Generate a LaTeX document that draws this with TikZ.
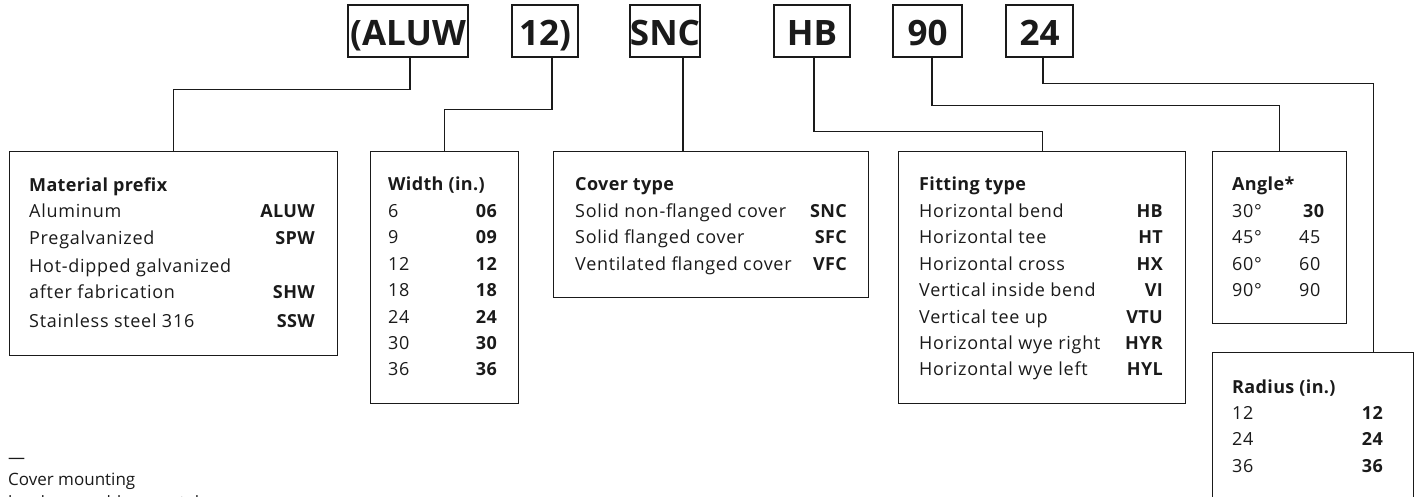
\documentclass[tikz,border=0pt]{standalone}
\usepackage{fontspec}
\setmainfont{Open Sans}
\newfontfamily\panelfont[LetterSpace=4]{Open Sans}
\newfontfamily\panelbold[LetterSpace=2]{Open Sans Bold}
\definecolor{ink}{HTML}{1A1A1A}
\begin{document}
\begin{tikzpicture}[x=1pt,y=-1pt,
  topbox/.style={draw=ink,line width=1.4pt,inner sep=0pt,minimum height=52pt,text height=30pt,text depth=0pt,font=\fontsize{35}{35}\selectfont\bfseries,text=ink},
  panel/.style={draw=ink,line width=1.4pt,inner sep=0pt,anchor=north west},
  conn/.style={draw=ink,line width=1.3pt},
  lbl/.style={anchor=base west,inner sep=0pt,font=\fontsize{18}{20}\panelfont,text=ink},
  hd/.style={anchor=base west,inner sep=0pt,font=\fontsize{18}{20}\panelbold,text=ink},
  code/.style={anchor=base east,inner sep=0pt,font=\fontsize{18}{20}\panelbold,text=ink},
  foot/.style={anchor=base west,inner sep=0pt,font=\fontsize{17}{20}\selectfont,text=ink}]
\useasboundingbox (0,0) rectangle (1418,497);

% top code boxes
\node[topbox,minimum width=120pt] (aluw) at (408,31) {(ALUW};
\node[topbox,minimum width=66pt] (w12) at (545,31) {12)};
\node[topbox,minimum width=66pt] (snc) at (665,31) {SNC};
\node[topbox,minimum width=76pt] (hb) at (812,31) {HB};
\node[topbox,minimum width=69pt] (n90) at (927.5,31) {90};
\node[topbox,minimum width=67pt] (n24) at (1039.5,31) {24};

% panels
\node[panel,minimum width=328pt,minimum height=204pt] (mat) at (9,151) {};
\node[panel,minimum width=148pt,minimum height=252pt] (wid) at (370,151) {};
\node[panel,minimum width=315pt,minimum height=146pt] (cov) at (553,151) {};
\node[panel,minimum width=287pt,minimum height=252pt] (fit) at (898,151) {};
\node[panel,minimum width=134pt,minimum height=172pt] (ang) at (1212,151) {};
\node[panel,minimum width=201pt,minimum height=190pt] (rad) at (1212,352) {};

% connectors
\draw[conn] ([xshift=2pt]aluw.south) -- ++(0,32) -| (mat.north);
\draw[conn] ([xshift=7pt]w12.south) -- ++(0,52) -| (wid.north);
\draw[conn] ([xshift=18pt]snc.south) -- ([xshift=18pt]snc.south |- cov.north);
\draw[conn] ([xshift=2pt]hb.south) -- ++(0,74) -| (fit.north);
\draw[conn] ([xshift=4.5pt]n90.south) -- ++(0,48) -| (ang.north);
\draw[conn] ([xshift=3.5pt]n24.south) -- ++(0,26) -| ([xshift=60pt]rad.north);

% Material prefix
\node[hd] (mt) at (29,192) {Material prefix};
\node[lbl] (ma1) at (29,218) {Aluminum};
\node[code] (mc1) at (315,218) {ALUW};
\node[lbl] (ma2) at (29,244) {Pregalvanized};
\node[code] (mc2) at (315,244) {SPW};
\node[lbl] (ma3) at (29,272) {Hot-dipped galvanized};
\node[lbl] (ma4) at (29,298) {after fabrication};
\node[code] (mc4) at (315,298) {SHW};
\node[lbl] (ma5) at (29,327) {Stainless steel 316};
\node[code] (mc5) at (315,327) {SSW};

% Width
\node[hd] (wt) at (388,191) {Width (in.)};
\foreach \a/\b [count=\i] in {6/06,9/09,12/12,18/18,24/24,30/30,36/36}{
  \node[lbl] (wa\i) at (388,191+26.4*\i) {\a};
  \node[code] (wc\i) at (497,191+26.4*\i) {\b};
}

% Cover type
\node[hd] (ct) at (575,191) {Cover type};
\foreach \a/\b [count=\i] in {Solid non-flanged cover/SNC,Solid flanged cover/SFC,Ventilated flanged cover/VFC}{
  \node[lbl] (ca\i) at (575,191+26.4*\i) {\a};
  \node[code] (cc\i) at (847,191+26.4*\i) {\b};
}

% Fitting type
\node[hd] (ft) at (919,191) {Fitting type};
\foreach \a/\b [count=\i] in {Horizontal bend/HB,Horizontal tee/HT,Horizontal cross/HX,Vertical inside bend/VI,Vertical tee up/VTU,Horizontal wye right/HYR,Horizontal wye left/HYL}{
  \node[lbl] (fa\i) at (919,191+26.4*\i) {\a};
  \node[code] (fc\i) at (1163,191+26.4*\i) {\b};
}

% Angle
\node[hd] (at) at (1232,191) {Angle*};
\node[lbl] (aa1) at (1232,217.4) {30°};
\node[hd] (ac1) at (1303,217.4) {30};
\node[lbl] (aa2) at (1232,243.8) {45°};
\node[lbl] (ac2) at (1299,243.8) {45};
\node[lbl] (aa3) at (1232,270.2) {60°};
\node[lbl] (ac3) at (1299,270.2) {60};
\node[lbl] (aa4) at (1232,296.6) {90°};
\node[lbl] (ac4) at (1299,296.6) {90};

% Radius
\node[hd] (rt) at (1232,393) {Radius (in.)};
\foreach \a [count=\i] in {12,24,36}{
  \node[lbl] (ra\i) at (1232,393+26.4*\i) {\a};
  \node[code] (rc\i) at (1383,393+26.4*\i) {\a};
}

% footnote
\node[foot] (dash) at (8,463) {—};
\node[foot] (fn1) at (8,485) {Cover mounting};
\node[foot] (fn2) at (8,508) {hardware sold separately};
\end{tikzpicture}
\end{document}
